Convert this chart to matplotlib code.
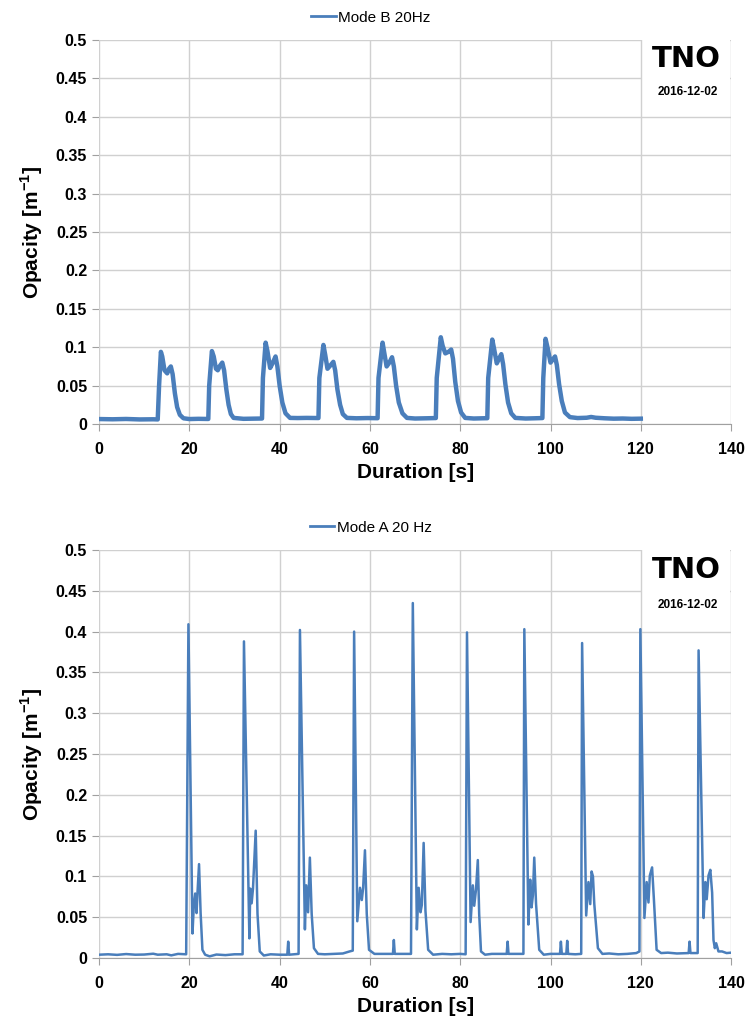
import matplotlib.pyplot as plt
from matplotlib.patches import Rectangle

# Mode B 20Hz (top)
t_b = [0, 3, 6, 9, 12, 13.0,
       13.3, 13.7, 14.0, 14.5, 15.1, 15.5, 15.9, 16.3, 16.8, 17.3, 17.9, 18.7, 20, 22, 24.2,
       24.4, 25.0, 25.4, 25.9, 26.3, 26.8, 27.3, 27.7, 28.2, 28.7, 29.2, 29.8, 32, 34, 36.1,
       36.3, 36.9, 37.3, 37.9, 38.5, 39.1, 39.5, 40.0, 40.6, 41.3, 42.3, 44, 46, 48.6,
       48.8, 49.7, 50.1, 50.6, 51.2, 51.9, 52.3, 52.8, 53.4, 54.0, 54.9, 57, 59.5, 61.7,
       61.9, 62.8, 63.2, 63.7, 64.3, 64.9, 65.3, 65.8, 66.4, 67.2, 68.2, 70, 72.5, 74.6,
       74.8, 75.7, 76.1, 76.7, 77.4, 78.0, 78.4, 78.9, 79.5, 80.2, 81.1, 83, 85, 86.0,
       86.2, 87.1, 87.5, 88.1, 88.6, 89.1, 89.5, 90.0, 90.6, 91.3, 92.2, 94.5, 96.5, 98.2,
       98.4, 98.9, 99.4, 100.0, 100.5, 101.0, 101.4, 101.9, 102.5, 103.2, 104.3, 106, 108,
       109, 110, 112, 114, 116, 118, 120]
op_b = [0.0065, 0.0062, 0.0066, 0.0060, 0.0062, 0.0060,
        0.050, 0.094, 0.088, 0.070, 0.066, 0.072, 0.075, 0.065, 0.040, 0.022, 0.012, 0.0075, 0.0065, 0.0068, 0.0066,
        0.050, 0.095, 0.088, 0.072, 0.070, 0.076, 0.080, 0.070, 0.045, 0.025, 0.013, 0.008, 0.0068, 0.0070, 0.0072,
        0.060, 0.106, 0.095, 0.073, 0.080, 0.088, 0.075, 0.050, 0.028, 0.014, 0.008, 0.0078, 0.0080, 0.0078,
        0.060, 0.103, 0.090, 0.072, 0.076, 0.081, 0.070, 0.045, 0.025, 0.013, 0.008, 0.0075, 0.0078, 0.0076,
        0.060, 0.106, 0.092, 0.075, 0.080, 0.087, 0.075, 0.050, 0.028, 0.014, 0.008, 0.0072, 0.0075, 0.0078,
        0.060, 0.113, 0.102, 0.092, 0.094, 0.097, 0.085, 0.055, 0.030, 0.015, 0.008, 0.0072, 0.0075, 0.0076,
        0.060, 0.110, 0.098, 0.079, 0.085, 0.091, 0.078, 0.052, 0.028, 0.014, 0.008, 0.0072, 0.0075, 0.0078,
        0.060, 0.111, 0.098, 0.080, 0.084, 0.088, 0.077, 0.052, 0.030, 0.015, 0.009, 0.0078, 0.0082,
        0.0092, 0.0082, 0.0075, 0.0070, 0.0072, 0.0068, 0.0070]

# Mode A 20 Hz (bottom)
t_a = [0, 2, 4, 6, 8, 10, 12, 13, 15, 16, 17.5, 19.3,
       19.8, 20.7, 21.0, 21.3, 21.6, 21.8, 22.15, 22.5, 22.9, 23.5, 24.5, 26, 28, 30, 31.8,
       32.1, 33.3, 33.5, 33.8, 34.1, 34.7, 35.1, 35.6, 36.5, 38, 40, 41.7, 41.9, 42.1, 44.2,
       44.5, 45.6, 45.9, 46.3, 46.7, 47.1, 47.6, 48.5, 50, 52, 54, 55.5, 56.2,
       56.5, 57.2, 57.8, 58.2, 58.5, 58.9, 59.3, 59.8, 61, 63, 65.1, 65.3, 65.5, 67, 69.1,
       69.5, 70.4, 70.8, 71.2, 71.5, 71.9, 72.3, 72.9, 74, 76, 78, 80, 81.2,
       81.5, 82.3, 82.8, 83.1, 83.5, 83.9, 84.2, 84.6, 85.5, 87, 89, 90.3, 90.5, 90.7, 92, 94.0,
       94.2, 95.1, 95.5, 95.8, 96.1, 96.4, 96.8, 97.5, 98.5, 100, 102.1, 102.3, 102.5, 103.5,
       103.7, 103.9, 105.5, 106.8,
       107.0, 107.9, 108.4, 108.8, 109.1, 109.4, 109.7, 110.5, 111.5, 113, 115, 117, 119.0, 119.7,
       119.9, 120.8, 121.3, 121.7, 122.0, 122.5, 122.9, 123.5, 124.5, 126, 128, 130.6, 130.8,
       131.0, 132.6,
       132.8, 133.9, 134.3, 134.6, 135.0, 135.4, 135.8, 136.1, 136.4, 136.7, 137.2, 138, 139, 140]
op_a = [0.004, 0.0045, 0.0038, 0.0048, 0.004, 0.0042, 0.0052, 0.004, 0.0045, 0.0032, 0.005, 0.0045,
        0.409, 0.030, 0.065, 0.079, 0.055, 0.079, 0.115, 0.055, 0.010, 0.004, 0.002, 0.0042, 0.0035, 0.0045, 0.0045,
        0.388, 0.024, 0.085, 0.067, 0.085, 0.156, 0.054, 0.008, 0.003, 0.0045, 0.004, 0.004, 0.020, 0.004, 0.005,
        0.402, 0.035, 0.089, 0.056, 0.123, 0.054, 0.012, 0.005, 0.0045, 0.005, 0.0055, 0.008, 0.009,
        0.400, 0.045, 0.086, 0.071, 0.086, 0.132, 0.054, 0.010, 0.005, 0.005, 0.005, 0.022, 0.005, 0.005, 0.005,
        0.435, 0.035, 0.086, 0.056, 0.065, 0.141, 0.058, 0.010, 0.004, 0.005, 0.0045, 0.005, 0.0045,
        0.399, 0.044, 0.089, 0.064, 0.084, 0.120, 0.054, 0.008, 0.004, 0.005, 0.005, 0.005, 0.020, 0.005, 0.005, 0.005,
        0.403, 0.041, 0.096, 0.062, 0.077, 0.123, 0.066, 0.010, 0.004, 0.005, 0.005, 0.020, 0.005, 0.005,
        0.021, 0.005, 0.0045, 0.005,
        0.386, 0.052, 0.093, 0.066, 0.106, 0.100, 0.066, 0.012, 0.005, 0.0055, 0.0045, 0.005, 0.006, 0.008,
        0.403, 0.049, 0.093, 0.068, 0.101, 0.111, 0.072, 0.010, 0.006, 0.0065, 0.0055, 0.006, 0.020,
        0.006, 0.006,
        0.377, 0.049, 0.093, 0.072, 0.101, 0.108, 0.080, 0.022, 0.012, 0.018, 0.008, 0.008, 0.006, 0.0065]

x_ticks = [0, 20, 40, 60, 80, 100, 120, 140]
y_ticks = [0, 0.05, 0.1, 0.15, 0.2, 0.25, 0.3, 0.35, 0.4, 0.45, 0.5]
y_labels = ['0', '0.05', '0.1', '0.15', '0.2', '0.25', '0.3', '0.35', '0.4', '0.45', '0.5']

plt.rcParams['font.family'] = ['Liberation Sans Narrow', 'Liberation Sans', 'DejaVu Sans']
plt.rcParams['mathtext.fontset'] = 'custom'
plt.rcParams['mathtext.bf'] = 'Liberation Sans:bold'
blue = '#4a7ebb'
grid = '#d0d0d0'

fig = plt.figure(figsize=(7.48, 10.25), dpi=100)
ax1 = fig.add_axes([0.1324, 0.5863, 0.845, 0.3746])
ax2 = fig.add_axes([0.1324, 0.0654, 0.845, 0.3980])


def style(ax, t, op, label, lw):
    ax.set_xlim(0, 140)
    ax.set_ylim(0, 0.5)
    ax.set_xticks(x_ticks)
    ax.set_yticks(y_ticks)
    ax.set_yticklabels(y_labels)
    ax.set_axisbelow(True)
    ax.grid(True, color=grid, linewidth=1)
    ax.xaxis.set_zorder(1.5)
    ax.yaxis.set_zorder(0.5)
    for s in ['top', 'right', 'left']:
        ax.spines[s].set_visible(False)
    ax.spines['bottom'].set_color('#a0a0a0')
    ax.tick_params(axis='both', colors='#a0a0a0', length=5, labelcolor='black',
                   labelsize=11.5)
    ax.tick_params(axis='x', pad=8)
    for lab in ax.get_xticklabels() + ax.get_yticklabels():
        lab.set_fontweight('bold')
    line, = ax.plot(t, op, color=blue, linewidth=lw, label=label, zorder=2,
                    solid_joinstyle='round')
    ax.set_xlabel('Duration [s]', fontsize=15, fontweight='bold', labelpad=4)
    ax.set_ylabel(r'Opacity [m$^{\mathbf{-1}}$]', fontsize=15, fontweight='bold', labelpad=8)
    leg = ax.legend(loc='lower center', bbox_to_anchor=(0.43, 1.0), frameon=False,
                    fontsize=11, handlelength=1.6, handletextpad=0.15, borderaxespad=0.6)
    leg.get_lines()[0].set_linewidth(2)
    # white logo box covering the top-right corner
    ax.add_patch(Rectangle((120.3, 0.407), 19.4, 0.1, facecolor='white',
                           edgecolor='none', zorder=1, clip_on=False))
    ax.text(130, 0.475, 'TNO', ha='center', va='center', fontsize=21,
            fontweight='heavy', family='DejaVu Sans', zorder=3)
    ax.text(130.5, 0.432, '2016-12-02', ha='center', va='center', fontsize=8.5,
            fontweight='bold', zorder=3)


style(ax1, t_b, op_b, 'Mode B 20Hz', 3.2)
style(ax2, t_a, op_a, 'Mode A 20 Hz', 1.8)

fig.savefig('out.png', dpi=100)
